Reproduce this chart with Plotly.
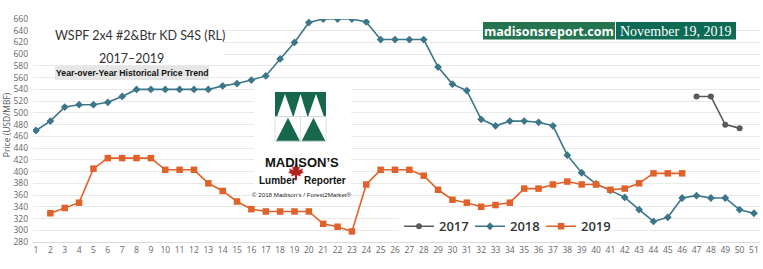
import plotly.graph_objects as go

weeks = list(range(1, 52))
y2017 = [None] * 46 + [528, 528, 480, 474, None]
y2018 = [470, 486, 510, 514, 514, 518, 528, 540, 540, 540, 540, 540, 540, 546, 550,
         556, 563, 592, 620, 654, 660, 660, 660, 655, 625, 625, 625, 625, 578, 549,
         538, 489, 478, 486, 486, 484, 478, 428, 398, 379, 368, 356, 335, 315, 322,
         355, 359, 355, 355, 335, 329]
y2019 = [None, 329, 338, 347, 405, 423, 423, 423, 423, 403, 403, 403, 380, 367, 349,
         336, 332, 332, 332, 332, 311, 306, 298, 378, 403, 403, 403, 393, 369, 352,
         347, 340, 343, 347, 371, 371, 378, 383, 378, 378, 369, 371, 380, 397, 397,
         397, None, None, None, None, None]
yticks = list(range(280, 661, 20))

W, H = 763, 269
L, R, T, B = 33, 760, 19, 241.7


def px(x):
    return (x - L) / (R - L)


def py(y):
    return (B - y) / (B - T)


fig = go.Figure()
fig.add_trace(go.Scatter(x=weeks, y=y2017, name="2017", mode="lines+markers",
                         line=dict(color="#5a5a5a", width=1.6),
                         marker=dict(symbol="circle", size=6, color="#5a5a5a")))
fig.add_trace(go.Scatter(x=weeks, y=y2018, name="2018", mode="lines+markers",
                         line=dict(color="#3b7689", width=1.6),
                         marker=dict(symbol="diamond", size=6, color="#3b7689")))
fig.add_trace(go.Scatter(x=weeks, y=y2019, name="2019", mode="lines+markers",
                         line=dict(color="#e0622a", width=1.6),
                         marker=dict(symbol="square", size=6.5, color="#e0622a")))

shapes = []
annotations = []

# white background behind title block
shapes.append(dict(type="rect", xref="paper", yref="paper", layer="above",
                   x0=px(34), x1=px(224), y0=py(64), y1=py(24),
                   fillcolor="white", line=dict(width=0)))
shapes.append(dict(type="rect", xref="paper", yref="paper", layer="above",
                   x0=px(55), x1=px(209), y0=py(80), y1=py(66),
                   fillcolor="#e6e6e6", line=dict(width=0)))
# logo background
shapes.append(dict(type="rect", xref="paper", yref="paper", layer="above",
                   x0=px(254), x1=px(351), y0=py(200), y1=py(88),
                   fillcolor="white", line=dict(width=0)))
# logo: top half green with white notches
lx0, lx1, ly0, lym, ly1 = 275, 326, 92, 116.5, 141
shapes.append(dict(type="rect", xref="paper", yref="paper", layer="above",
                   x0=px(lx0), x1=px(lx1), y0=py(lym), y1=py(ly0),
                   fillcolor="#17684a", line=dict(width=0)))
for cx, hw in ((285, 8), (300.5, 7), (316, 8)):
    path = "M{},{} L{},{} L{},{} Z".format(px(cx - hw), py(lym), px(cx + hw), py(lym),
                                            px(cx), py(ly0 + 2))
    shapes.append(dict(type="path", xref="paper", yref="paper", layer="above",
                       path=path, fillcolor="white", line=dict(width=0)))
for cx in (288, 313.5):
    path = "M{},{} L{},{} L{},{} Z".format(px(cx - 12), py(ly1), px(cx + 12), py(ly1),
                                            px(cx), py(lym + 1))
    shapes.append(dict(type="path", xref="paper", yref="paper", layer="above",
                       path=path, fillcolor="#17684a", line=dict(width=0)))
shapes.append(dict(type="rect", xref="paper", yref="paper", layer="above",
                   x0=px(lx0), x1=px(lx1), y0=py(ly1), y1=py(lym),
                   fillcolor="rgba(0,0,0,0)", line=dict(color="#cfd8d4", width=0.8)))
shapes.append(dict(type="line", xref="paper", yref="paper", layer="above",
                   x0=px(300.5), x1=px(300.5), y0=py(ly1), y1=py(lym),
                   line=dict(color="#cfd8d4", width=0.8)))

# banner boxes
shapes.append(dict(type="rect", xref="paper", yref="paper", layer="above",
                   x0=px(483), x1=px(615), y0=py(39.5), y1=py(22),
                   fillcolor="#24744f", line=dict(width=0)))
shapes.append(dict(type="rect", xref="paper", yref="paper", layer="above",
                   x0=px(616), x1=px(736), y0=py(39.5), y1=py(22),
                   fillcolor="#0c6a55", line=dict(width=0)))

# maple leaf
leaf = [(0, -9), (2, -5), (4, -6), (3, -2), (7, -4), (6, -1), (8, 0), (4, 2), (5, 4),
        (1, 3), (1, 8), (-1, 8), (-1, 3), (-5, 4), (-4, 2), (-8, 0), (-6, -1), (-7, -4),
        (-3, -2), (-4, -6), (-2, -5)]
lcx, lcy = 296, 172
path = "M" + " L".join("{},{}".format(px(lcx + dx), py(lcy + dy)) for dx, dy in leaf) + " Z"
shapes.append(dict(type="path", xref="paper", yref="paper", layer="above",
                   path=path, fillcolor="#b3221f", line=dict(width=0)))


def ann(text, x, y, size, color="#333", family="Lato", weight="normal", xanchor="center"):
    annotations.append(dict(text=text, x=px(x), y=py(y), xref="paper", yref="paper",
                            xanchor=xanchor, yanchor="middle", showarrow=False,
                            font=dict(size=size, color=color, family=family, weight=weight)))


ann("WSPF 2x4 #2&amp;Btr KD S4S (RL)", 140, 35, 12.5, "#333", "Lato")
ann("2017–2019", 131, 58, 12.5, "#333", "Lato")
ann("Year-over-Year Historical Price Trend", 132, 73, 8.7, "#111",
    "Liberation Sans", "bold")
ann("madisonsreport.com", 549, 31, 12.5, "white", "Open Sans", "bold")
ann("November 19, 2019", 676, 31, 14, "white", "Liberation Serif")
ann("MADISON’S", 302, 162, 13, "#111", "Liberation Sans", "bold")
ann("Lumber&nbsp;&nbsp;&nbsp;Reporter", 302, 180, 10, "#111", "Liberation Sans", "bold")
ann("© 2018 Madison’s / Forest2Market®", 302, 194, 6.2, "#222", "Liberation Sans")
annotations.append(dict(text="Price (USD/MBF)", x=px(6), y=py(125), xref="paper", yref="paper",
                        textangle=-90, showarrow=False, xanchor="center", yanchor="middle",
                        font=dict(size=8.5, color="#555", family="Open Sans")))

fig.update_layout(
    width=W, height=H, autosize=False,
    margin=dict(l=L, r=W - R, t=T, b=round(H - B), pad=0),
    paper_bgcolor="white", plot_bgcolor="white",
    showlegend=True,
    legend=dict(orientation="h", x=px(399), y=py(226), xanchor="left", yanchor="middle",
                bgcolor="white", font=dict(size=13, color="#333", family="Open Sans", weight=600),
                entrywidth=26, entrywidthmode="pixels", itemwidth=30),
    xaxis=dict(range=[0.79, 51.42], tickvals=weeks, ticktext=[str(w) for w in weeks],
               showgrid=False, zeroline=False, showline=True, linecolor="#d9d9d9", linewidth=1,
               tickfont=dict(size=8.5, color="#666", family="Open Sans"), ticks="",
               fixedrange=True),
    yaxis=dict(range=[280, 660], tickvals=yticks, showgrid=True, gridcolor="#e9e9e9",
               gridwidth=1, zeroline=False, showline=False,
               tickfont=dict(size=8.5, color="#666", family="Open Sans"), ticks="",
               ticklabelstandoff=4, fixedrange=True),
    shapes=shapes, annotations=annotations,
)

fig.write_html("out.html")
